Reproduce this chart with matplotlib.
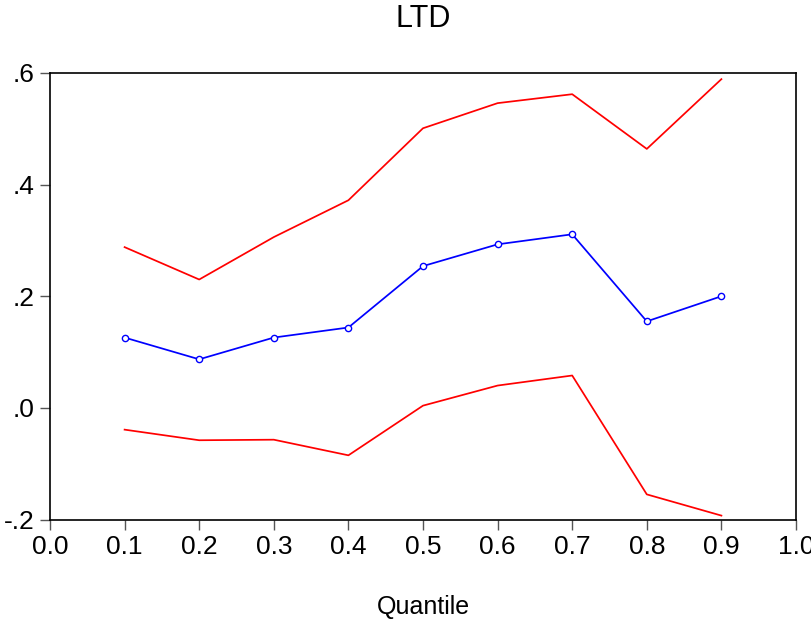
import matplotlib
matplotlib.use("Agg")
import matplotlib.pyplot as plt
from matplotlib.ticker import FuncFormatter

plt.rcParams['font.family'] = ['Liberation Sans', 'DejaVu Sans']

quantiles = [0.1, 0.2, 0.3, 0.4, 0.5, 0.6, 0.7, 0.8, 0.9]
estimate = [0.126, 0.087, 0.126, 0.144, 0.254, 0.293, 0.311, 0.155, 0.200]
upper = [0.288, 0.230, 0.306, 0.372, 0.501, 0.546, 0.562, 0.464, 0.589]
lower = [-0.039, -0.058, -0.057, -0.085, 0.004, 0.040, 0.058, -0.155, -0.193]


def short_fmt(v, pos):
    s = f"{v:.1f}"
    if s.startswith("-0"):
        return "-" + s[2:]
    if s.startswith("0"):
        return s[1:]
    return s


fig = plt.figure(figsize=(8.12, 6.25), dpi=100)
ax = fig.add_axes([50 / 812, 1 - 519.5 / 625, 746 / 812, 446.5 / 625])

ax.plot(quantiles, upper, color='red', lw=1.25)
ax.plot(quantiles, lower, color='red', lw=1.25)
ax.plot(quantiles, estimate, color='blue', lw=1.25, marker='o', markersize=4.5,
        markerfacecolor='white', markeredgecolor='blue', markeredgewidth=1.0)

ax.set_xlim(0.0, 1.0)
ax.set_ylim(-0.2, 0.6)
ax.set_xticks([i / 10 for i in range(11)])
ax.set_yticks([-0.2, 0.0, 0.2, 0.4, 0.6])
ax.xaxis.set_major_formatter(FuncFormatter(lambda v, p: f"{v:.1f}"))
ax.yaxis.set_major_formatter(FuncFormatter(short_fmt))
ax.tick_params(direction='out', length=7.5, width=1, color='#555555',
               labelsize=19, pad=3.5)
for sp in ax.spines.values():
    sp.set_linewidth(1.2)

fig.text(0.5 * (50 + 796) / 812, 1 - 19 / 625, "LTD", fontsize=22,
         ha='center', va='center')
fig.text(0.5 * (50 + 796) / 812, 1 - 607 / 625, "Quantile", fontsize=18,
         ha='center', va='center')

fig.savefig("out.png", dpi=100)
